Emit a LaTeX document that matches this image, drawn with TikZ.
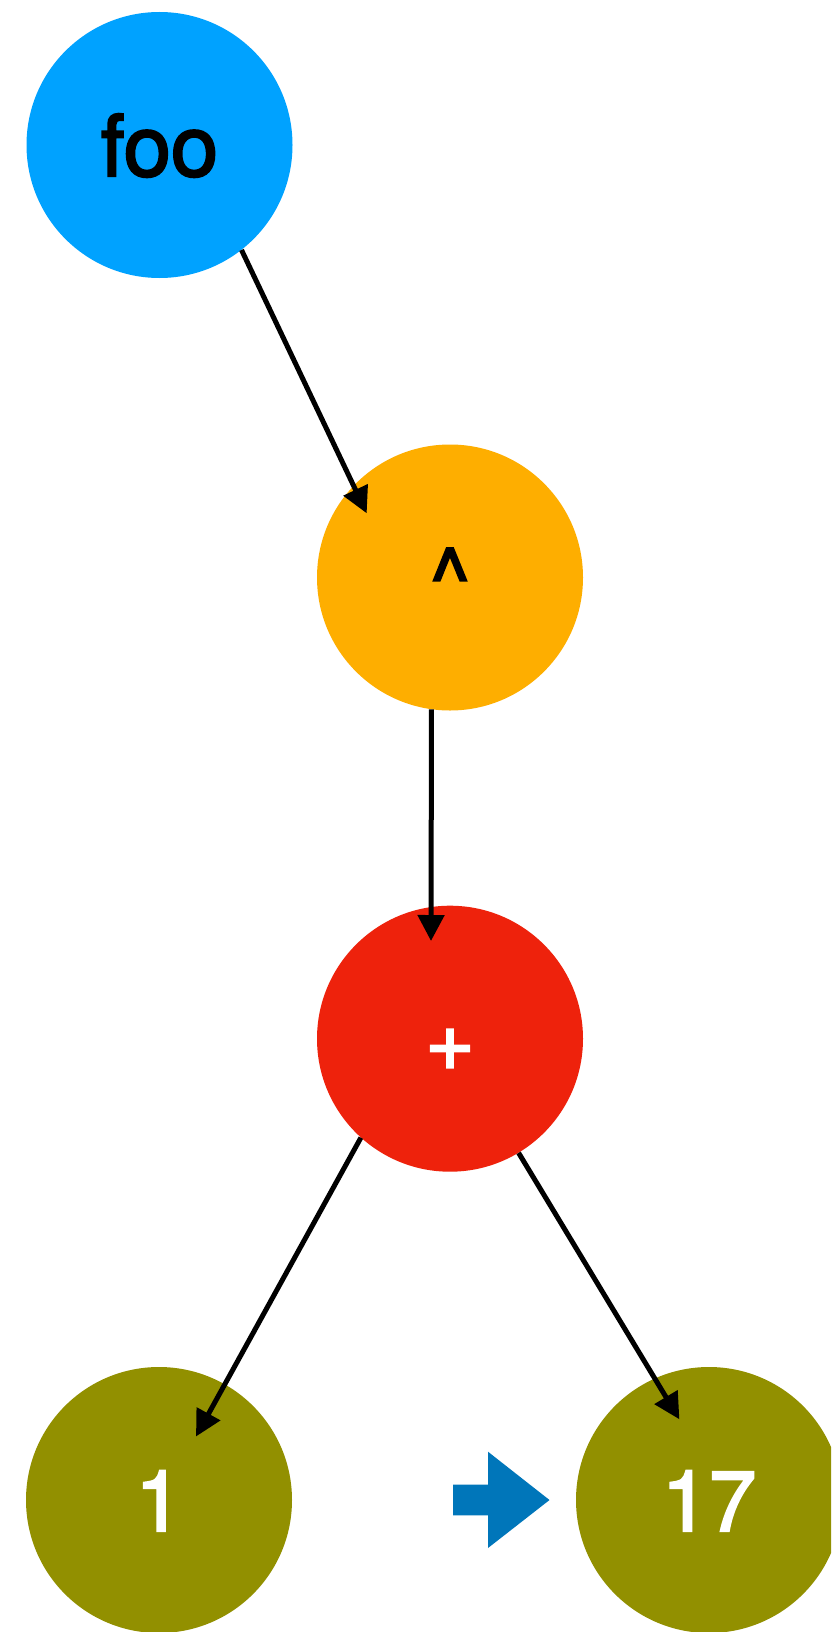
\documentclass[tikz,border=0pt]{standalone}
\usepackage{fontspec}
\setmainfont{TeX Gyre Heros}[FakeBold=2.5]
\usetikzlibrary{arrows.meta}
\definecolor{cblue}{HTML}{00A2FF}
\definecolor{corange}{HTML}{FEAE00}
\definecolor{cred}{HTML}{EE220C}
\definecolor{colive}{HTML}{929000}
\definecolor{carrow}{HTML}{0076BA}
\tikzset{
  ball/.style={circle, minimum size=266pt, inner sep=0pt, text height=62pt, text depth=0pt,
    font=\fontsize{85}{85}\selectfont},
  link/.style={line width=5pt, -{Triangle[length=26pt,width=26pt]}}
}
\begin{document}
\begin{tikzpicture}[x=1pt,y=-1pt]
\useasboundingbox (0,0) rectangle (831,1632);
\clip (0,0) rectangle (831,1632);
\fill[white] (0,0) rectangle (831,1632);
\node[ball, fill=cblue, text=black] (foo) at (159.5,145) {foo};
\node[ball, fill=corange, text=black] (hat) at (450,577.5) {\textasciicircum};
\node[ball, fill=cred, text=white] (plus) at (450,1038.7) {+};
\node[ball, fill=colive, text=white] (one) at (159,1500) {1};
\node[ball, fill=colive, text=white] (seventeen) at (709,1500) {17};
\coordinate (e1) at (366.7,513.3);
\coordinate (e2) at (431,941);
\coordinate (e3) at (196,1436.5);
\coordinate (e4) at (679.4,1419.3);
\draw[link] (foo.-52.3) -- (e1);
\draw[link] (hat.-98.2) -- (e2);
\draw[link] (plus.-132.6) -- (e3);
\draw[link] (plus.-59.4) -- (e4);
\fill[carrow] (453,1484.7) -- (488,1484.7) -- (488,1451.7) -- (549.5,1500) -- (488,1548) -- (488,1515.3) -- (453,1515.3) -- cycle;
\end{tikzpicture}
\end{document}
